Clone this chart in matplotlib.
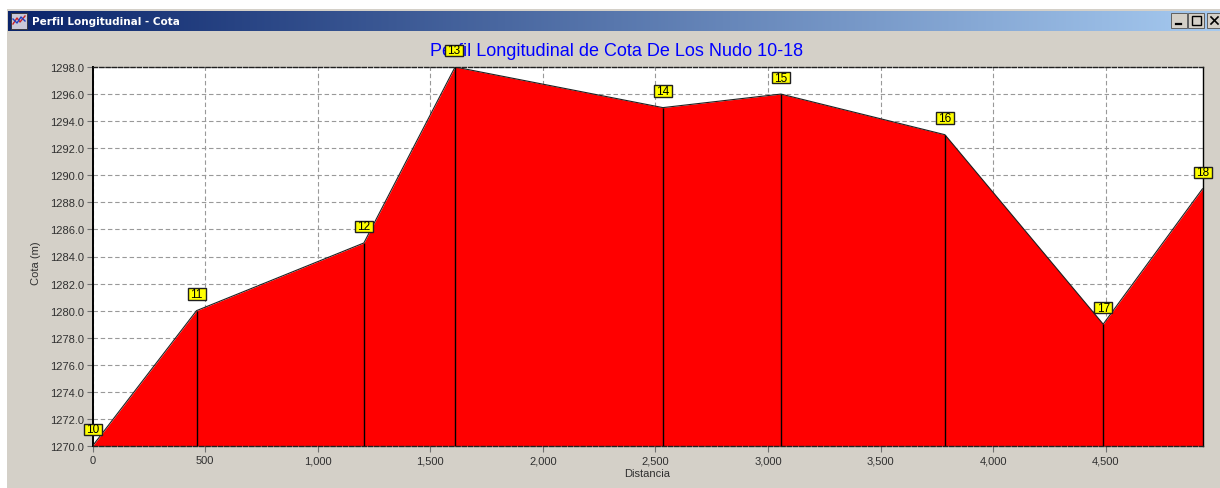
import numpy as np
import matplotlib
matplotlib.use("Agg")
import matplotlib.pyplot as plt
from matplotlib.patches import Rectangle
from matplotlib.path import Path
from matplotlib.ticker import FuncFormatter, MultipleLocator

node_ids = ["10", "11", "12", "13", "14", "15", "16", "17", "18"]
distance = [0, 462, 1205, 1610, 2533, 3057, 3785, 4488, 4929]
cota = [1270, 1280, 1285, 1298, 1295, 1296, 1293, 1279, 1289]
window_title = "Perfil Longitudinal - Cota"
chart_title = "Perfil Longitudinal de Cota De Los Nudo 10-18"
x_label = "Distancia"
y_label = "Cota (m)"

W, H = 1220, 489
plt.rcParams["font.family"] = ["Liberation Sans", "DejaVu Sans"]
fig = plt.figure(figsize=(W / 100, H / 100), dpi=100, facecolor="white")

# window chrome, in pixel coordinates
bg = fig.add_axes([0, 0, 1, 1], zorder=0)
bg.set_xlim(0, W)
bg.set_ylim(H, 0)
bg.axis("off")
GRAY = "#d4d0c8"
bg.add_patch(Rectangle((7, 10), W - 7, H - 10, fc=GRAY, ec="none"))
c0 = np.array([10, 36, 106]) / 255
c1 = np.array([166, 202, 240]) / 255
t = np.linspace(0, 1, 512)[None, :, None]
grad = c0 + (c1 - c0) * t
bg.imshow(grad, extent=(8, W, 32, 12), aspect="auto", zorder=1)
bg.set_xlim(0, W)
bg.set_ylim(H, 0)
bg.text(32, 22, window_title, color="white", fontsize=7.5, fontweight="bold",
        family="DejaVu Sans", va="center", ha="left", zorder=2)

# window icon
bg.add_patch(Rectangle((11, 14), 16, 16, fc="#c8c8d8", ec="#303030", lw=0.6, zorder=2))
bg.plot([13, 17, 20, 25], [25, 19, 23, 17], color="#d02020", lw=1, zorder=3)
bg.plot([13, 17, 21, 25], [20, 24, 18, 22], color="#2040c0", lw=1, zorder=3)

# window buttons
for bx in (1171, 1188, 1207):
    bg.add_patch(Rectangle((bx, 14), 16, 15, fc=GRAY, ec="#606060", lw=0.7, zorder=2))
bg.plot([1176, 1181], [25, 25], color="black", lw=1.6, zorder=3)
bg.add_patch(Rectangle((1192, 17), 9, 9, fc="none", ec="black", lw=1, zorder=3))
bg.plot([1211, 1218], [18, 25], color="black", lw=1.2, zorder=3)
bg.plot([1211, 1218], [25, 18], color="black", lw=1.2, zorder=3)

# chart
L, R, T, B = 92.5, 1202.5, 68, 447
ax = fig.add_axes([L / W, 1 - B / H, (R - L) / W, (B - T) / H], zorder=2)
ax.set_facecolor("white")
ax.set_xlim(0, 4929)
ax.set_ylim(1270, 1298)
ax.fill_between(distance, cota, 1270, color="#ff0000", lw=0, zorder=2)
ax.plot(distance, cota, color="#202020", lw=0.8, zorder=3)
ax.vlines(distance[1:-1], 1270, cota[1:-1], color="black", lw=1, zorder=3)

ax.xaxis.set_major_locator(MultipleLocator(500))
ax.yaxis.set_major_locator(MultipleLocator(2))
ax.xaxis.set_major_formatter(FuncFormatter(lambda v, _: f"{int(v):,}"))
ax.yaxis.set_major_formatter(FuncFormatter(lambda v, _: f"{v:.1f}"))
ax.grid(True, color="#999999", lw=0.8, ls=(0, (4, 2.5)), zorder=1)
ax.tick_params(axis="both", labelsize=8, colors="#707070", length=4, width=0.8, pad=2)
ax.tick_params(axis="x", pad=2.5)
ax.tick_params(axis="both", labelcolor="#303030")
ax.set_xlabel(x_label, fontsize=8, color="#303030", labelpad=2)
ax.set_ylabel(y_label, fontsize=8, color="#303030", labelpad=3)
ax.yaxis.set_label_coords((41 - L) / (R - L), (B - 263) / (B - T))

ax.spines["left"].set_linewidth(1.4)
ax.spines["right"].set_linewidth(1)
for s in ("top", "bottom"):
    ax.spines[s].set_linestyle((0, (3, 1.5)))
    ax.spines[s].set_linewidth(1)
    ax.spines[s].set_color("#202020")


def label_box(x0, y0, width, height, mutation_size):
    # fixed 25 x 16 px yellow tag centred on the text
    cx, cy = x0 + width / 2, y0 + height / 2
    hw, hh = 12.5 * 0.72, 8 * 0.72
    return Path([(cx - hw, cy - hh), (cx + hw, cy - hh), (cx + hw, cy + hh),
                 (cx - hw, cy + hh), (cx - hw, cy - hh)], closed=True)


for name, xv, yv in zip(node_ids, distance, cota):
    dx = -1 if name == "13" else 0
    ax.annotate(name, (xv, yv), xytext=(dx * 0.72, 16.5 * 0.72), textcoords="offset points",
                ha="center", va="center", fontsize=8.5, color="black", annotation_clip=False, zorder=6,
                bbox=dict(boxstyle=label_box, fc="#ffff00", ec="#202020", lw=1))

fig.text(617 / W, 1 - 52 / H, chart_title, color="#0000ff", fontsize=13,
         ha="center", va="center", zorder=1)

fig.savefig("out.png", dpi=100, facecolor=fig.get_facecolor())
